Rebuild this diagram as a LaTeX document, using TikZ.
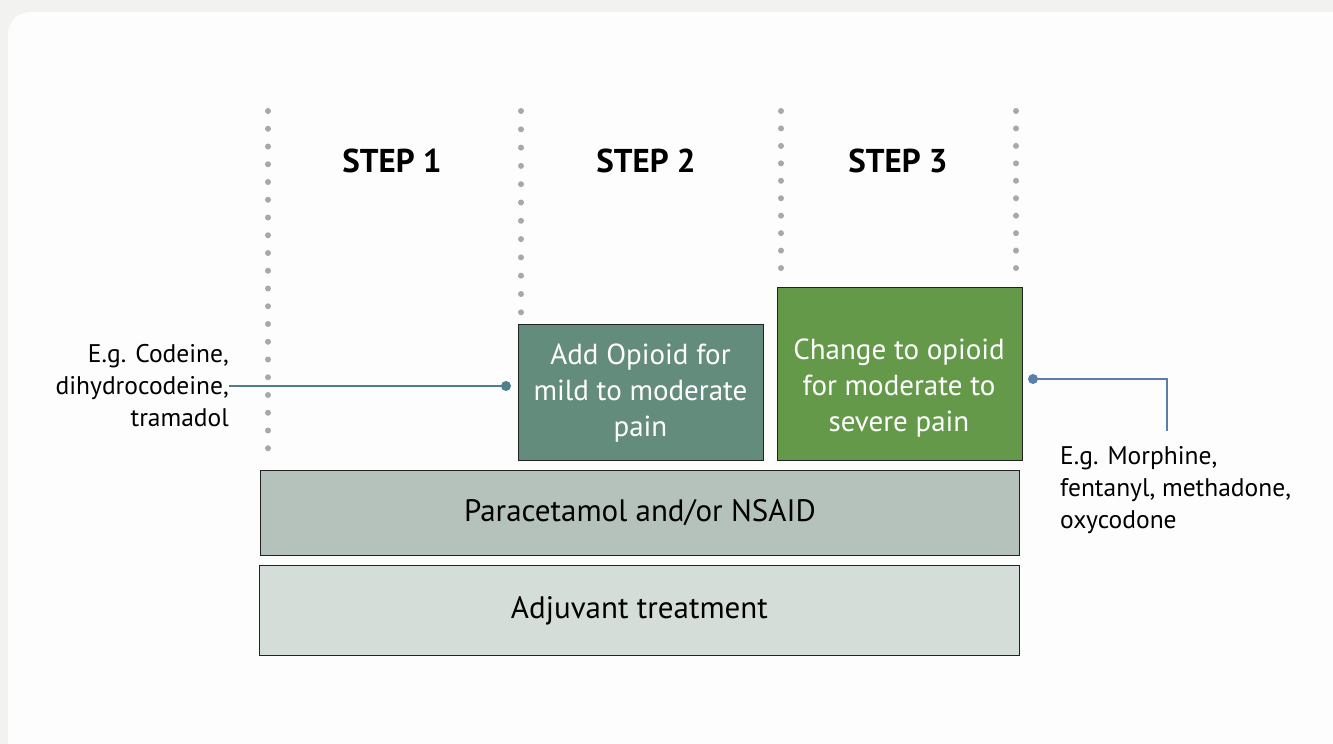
\documentclass[tikz,border=0pt]{standalone}
\usepackage{fontspec}
\setmainfont{PT Sans}
\definecolor{outerbg}{HTML}{F2F2F0}
\definecolor{cardbg}{HTML}{FDFDFD}
\definecolor{dotgray}{HTML}{A8A8A8}
\definecolor{boxtwo}{HTML}{648C7D}
\definecolor{boxthree}{HTML}{64994A}
\definecolor{paracol}{HTML}{B5C2BB}
\definecolor{adjcol}{HTML}{D5DDD9}
\definecolor{linel}{HTML}{4F7F8C}
\definecolor{liner}{HTML}{5A7FA8}
\definecolor{edgecol}{HTML}{222222}
\tikzset{
  stepbox/.style={draw=edgecol, line width=1pt, anchor=north west, inner sep=0pt},
  boxtext/.style={align=center, text=white, inner sep=0pt, font=\fontsize{29}{36}\selectfont},
  widebox/.style={draw=edgecol, line width=0.9pt, anchor=north west, inner sep=0pt, align=center, font=\fontsize{31}{36}\selectfont},
  steplabel/.style={font=\fontsize{33}{36}\selectfont\bfseries},
  sidelabel/.style={inner sep=0pt, font=\fontsize{25.5}{32}\selectfont},
  gdot/.style={fill=dotgray, draw=none}
}
\begin{document}
\begin{tikzpicture}[x=1pt,y=-1pt]
\useasboundingbox (0,0) rectangle (1333,744);
\fill[outerbg] (0,0) rectangle (1333,744);
\fill[cardbg, rounded corners=22pt] (8,12) rectangle (1355,770);
% dotted separators
\foreach \i in {0,...,19} \fill[gdot] (268,{111+\i*17.75}) circle (3pt);
\foreach \i in {0,...,11} \fill[gdot] (521,{111+\i*18.3}) circle (3pt);
\foreach \i in {0,...,9} \fill[gdot] (781,{111+\i*17.45}) circle (3pt);
\foreach \i in {0,...,9} \fill[gdot] (1016,{111+\i*17.45}) circle (3pt);
% step labels
\node[steplabel] (s1) at (392,161) {STEP 1};
\node[steplabel] (s2) at (646,161) {STEP 2};
\node[steplabel] (s3) at (898,161) {STEP 3};
% boxes
\node[stepbox, fill=boxtwo, minimum width=245pt, minimum height=136pt] (b2) at (518,324) {};
\node[boxtext] (t2) at (640.5,393) {Add Opioid for\\mild to moderate\\pain};
\node[stepbox, fill=boxthree, minimum width=245pt, minimum height=173pt] (b3) at (777,287) {};
\node[boxtext] (t3) at (899,388) {Change to opioid\\for moderate to\\severe pain};
\node[widebox, fill=paracol, minimum width=759pt, minimum height=85pt] (bp) at (260,470) {Paracetamol and/or NSAID};
\node[widebox, fill=adjcol, minimum width=760pt, minimum height=90pt] (ba) at (259,565) {Adjuvant treatment};
% side labels
\node[sidelabel, anchor=east, align=right] (l1) at (229,386) {E.g. Codeine,\\dihydrocodeine,\\tramadol};
\node[sidelabel, anchor=west, align=left] (l2) at (1060,490) {E.g. Morphine,\\fentanyl, methadone,\\oxycodone};
% connectors
\coordinate (d1) at (506,386);
\coordinate (d2) at (1033,379);
\coordinate (k2) at (1167,379);
\coordinate (e2) at (1167,431);
\draw[linel, line width=2pt] (l1.east) -- (d1);
\fill[linel] (d1) circle (5pt);
\draw[liner, line width=2pt] (d2) -- (k2) -- (e2);
\fill[liner] (d2) circle (5pt);
\end{tikzpicture}
\end{document}
